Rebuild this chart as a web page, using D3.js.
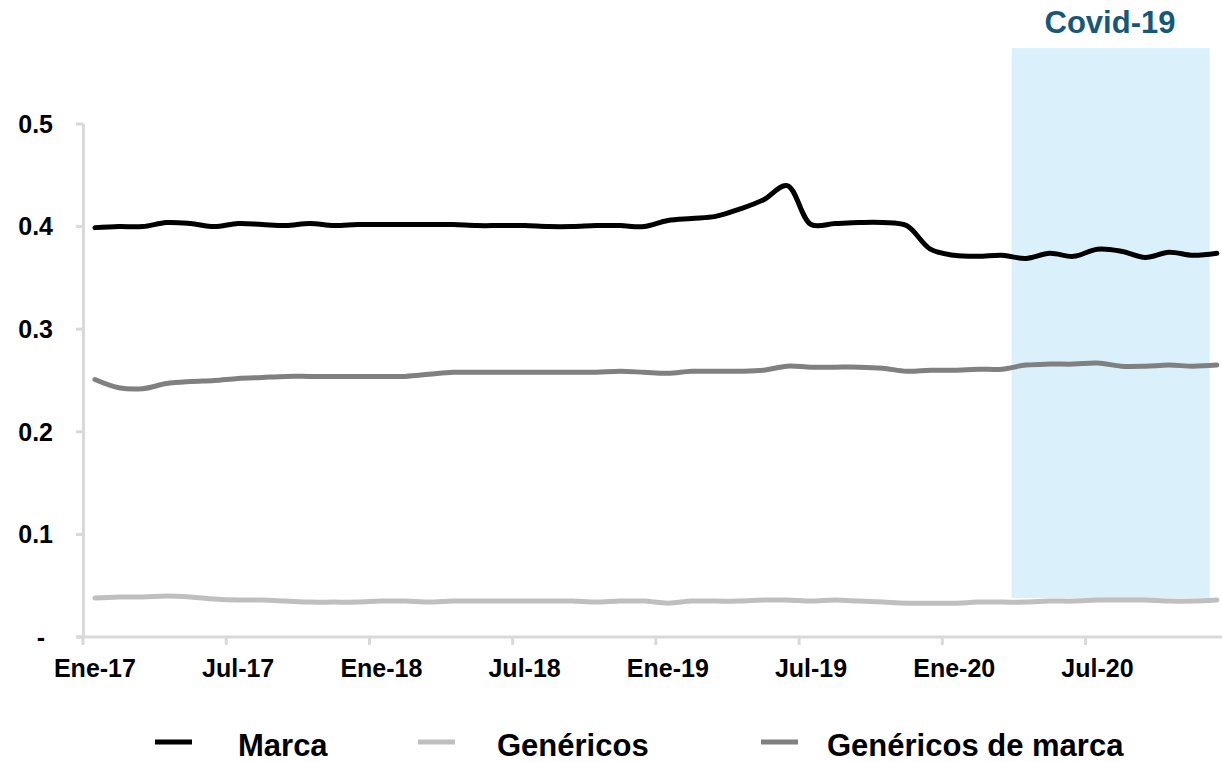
<!DOCTYPE html>
<html><head><meta charset="utf-8">
<script src="https://cdn.jsdelivr.net/npm/d3@7"></script>
<style>body{margin:0;background:#fff}svg{display:block}text{font-family:"Liberation Sans",Arial,sans-serif;font-weight:bold}</style>
</head><body>
<svg id="c" width="1222" height="762"></svg>
<script>
const monthNames = ["Ene","Feb","Mar","Abr","May","Jun","Jul","Ago","Sep","Oct","Nov","Dic"];
const years = ["17","18","19","20"];
const months = years.flatMap(y => monthNames.map(m => m + "-" + y));
const xTickLabels = ["Ene-17","Jul-17","Ene-18","Jul-18","Ene-19","Jul-19","Ene-20","Jul-20"];
const yTicks = [0, 0.1, 0.2, 0.3, 0.4, 0.5];
const yTickLabels = ["-","0.1","0.2","0.3","0.4","0.5"];

const marca = [0.399,0.400,0.400,0.404,0.403,0.400,0.403,0.402,0.401,0.403,0.401,0.402,
               0.402,0.402,0.402,0.402,0.401,0.401,0.401,0.400,0.400,0.401,0.401,0.400,
               0.406,0.408,0.410,0.417,0.426,0.440,0.402,0.403,0.404,0.404,0.401,0.378,
               0.372,0.371,0.372,0.369,0.374,0.371,0.378,0.376,0.370,0.375,0.372,0.374];
const genericos = [0.038,0.039,0.039,0.040,0.039,0.037,0.036,0.036,0.035,0.034,0.034,0.034,
                   0.035,0.035,0.034,0.035,0.035,0.035,0.035,0.035,0.035,0.034,0.035,0.035,
                   0.033,0.035,0.035,0.035,0.036,0.036,0.035,0.036,0.035,0.034,0.033,0.033,
                   0.033,0.034,0.034,0.034,0.035,0.035,0.036,0.036,0.036,0.035,0.035,0.036];
const genericosMarca = [0.251,0.243,0.242,0.247,0.249,0.250,0.252,0.253,0.254,0.254,0.254,0.254,
                        0.254,0.254,0.256,0.258,0.258,0.258,0.258,0.258,0.258,0.258,0.259,0.258,
                        0.257,0.259,0.259,0.259,0.260,0.264,0.263,0.263,0.263,0.262,0.259,0.260,
                        0.260,0.261,0.261,0.265,0.266,0.266,0.267,0.264,0.264,0.265,0.264,0.265];
const seriesNames = ["Marca","Genéricos","Genéricos de marca"];
const seriesColors = ["#000000","#bfbfbf","#808080"];
const covidLabel = "Covid-19";
const covidRange = [38.9, 47.2];      // month-index span of shaded area
const covidValues = [0.038, 0.574];   // vertical span in value units

const svg = d3.select("#c");
const x = d3.scaleLinear().domain([0, months.length]).range([83, 83 + 48 * 23.87]);
const y = d3.scaleLinear().domain([0, 0.5]).range([637, 124]);

// Covid band
svg.append("rect")
  .attr("x", x(covidRange[0])).attr("width", x(covidRange[1]) - x(covidRange[0]))
  .attr("y", y(covidValues[1])).attr("height", y(covidValues[0]) - y(covidValues[1]))
  .attr("fill", "#daf1fc");
svg.append("text").attr("x", 1110).attr("y", 33).attr("text-anchor", "middle")
  .attr("font-size", 31).attr("fill", "#17587a").text(covidLabel);

const axisColor = "#d9d9d9";
// Y axis
const ya = svg.append("g");
ya.append("line").attr("x1", 83.5).attr("x2", 83.5).attr("y1", y(0.5)).attr("y2", y(0))
  .attr("stroke", axisColor).attr("stroke-width", 3);
yTicks.forEach((t, i) => {
  ya.append("line").attr("x1", 76).attr("x2", 83.5).attr("y1", y(t)).attr("y2", y(t))
    .attr("stroke", axisColor).attr("stroke-width", 3);
  ya.append("text").attr("x", i === 0 ? 45 : 53).attr("y", y(t)).attr("dy", "0.35em")
    .attr("text-anchor", "end").attr("font-size", 25).attr("fill", "#000").text(yTickLabels[i]);
});
// X axis
const xa = svg.append("g");
xa.append("line").attr("x1", 76).attr("x2", 1222).attr("y1", y(0)).attr("y2", y(0))
  .attr("stroke", axisColor).attr("stroke-width", 3);
xTickLabels.forEach(lbl => {
  const i = months.indexOf(lbl);
  xa.append("line").attr("x1", x(i)).attr("x2", x(i)).attr("y1", y(0)).attr("y2", y(0) + 8)
    .attr("stroke", axisColor).attr("stroke-width", 3);
  xa.append("text").attr("x", x(i + 0.5)).attr("y", 677).attr("text-anchor", "middle")
    .attr("font-size", 25).attr("fill", "#000").text(lbl);
});

// Lines
const line = d3.line().x((d, i) => x(i + 0.5)).y(d => y(d)).curve(d3.curveCatmullRom.alpha(0.5));
[genericos, genericosMarca, marca].forEach(s => {
  const idx = s === marca ? 0 : s === genericos ? 1 : 2;
  svg.append("path").datum(s).attr("d", line).attr("fill", "none")
    .attr("stroke", seriesColors[idx]).attr("stroke-width", 5)
    .attr("stroke-linecap", "round").attr("stroke-linejoin", "round");
});

// Legend
const legendPos = [[155, 238], [418, 497], [761, 827]];
seriesNames.forEach((n, i) => {
  svg.append("line").attr("x1", legendPos[i][0]).attr("x2", legendPos[i][0] + 37)
    .attr("y1", 742).attr("y2", 742).attr("stroke", seriesColors[i]).attr("stroke-width", 5);
  svg.append("text").attr("x", legendPos[i][1]).attr("y", 756).attr("font-size", 31)
    .attr("fill", "#000").text(n);
});
</script>
</body></html>
